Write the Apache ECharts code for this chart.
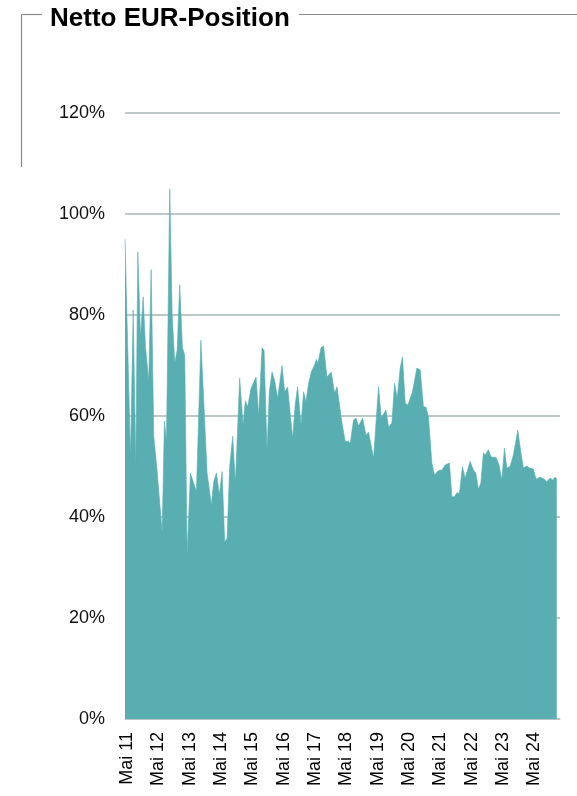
<!DOCTYPE html>
<html>
<head>
<meta charset="utf-8">
<script src="https://cdn.jsdelivr.net/npm/echarts@6/dist/echarts.min.js"></script>
<style>
html,body{margin:0;padding:0;background:#fff;}
#chart{width:577px;height:796px;}
</style>
</head>
<body>
<div id="chart"></div>
<script>
// Dates as decimal years, values in percent
const dates = [
2011.263,2011.439,2011.525,2011.608,2011.672,2011.758,2011.844,2011.917,2012.022,2012.099,
2012.182,2012.290,2012.450,2012.523,2012.587,2012.692,2012.769,2012.852,2012.928,2013.011,
2013.097,2013.171,2013.247,2013.352,2013.544,2013.687,2013.885,2014.022,2014.096,2014.182,
2014.278,2014.364,2014.447,2014.523,2014.606,2014.702,2014.788,2014.925,2015.034,2015.107,
2015.180,2015.289,2015.448,2015.531,2015.640,2015.703,2015.799,2015.872,2015.959,2016.042,
2016.137,2016.278,2016.360,2016.456,2016.616,2016.702,2016.775,2016.884,2016.967,2017.043,
2017.126,2017.212,2017.308,2017.372,2017.426,2017.522,2017.604,2017.713,2017.850,2017.955,
2018.032,2018.192,2018.297,2018.402,2018.456,2018.561,2018.638,2018.721,2018.849,2018.957,
2019.040,2019.200,2019.359,2019.445,2019.595,2019.678,2019.786,2019.869,2019.955,2020.051,
2020.124,2020.211,2020.297,2020.443,2020.584,2020.689,2020.794,2020.871,2020.954,2021.062,
2021.145,2021.273,2021.381,2021.487,2021.624,2021.700,2021.783,2021.860,2021.943,2022.038,
2022.124,2022.284,2022.389,2022.466,2022.549,2022.625,2022.708,2022.762,2022.868,2022.954,
2023.113,2023.209,2023.295,2023.378,2023.455,2023.560,2023.665,2023.806,2023.901,2023.984,
2024.093,2024.176,2024.303,2024.389,2024.517,2024.654,2024.731,2024.836,2024.922,2024.995,
2025.049
];
const values = [
95,52,81,50,92.5,75.6,83.6,73.7,67,89,
56,49,37,59,55,105,80,70.5,73,86,
73.5,72,32.5,48.7,45,75,48.7,42.4,47,48.7,
44.4,49,35,35.8,50,56,46.7,67.5,58.2,63,
61.8,65.5,67.7,60,73.5,73,53,64.8,68.7,67,
63.5,70,64.8,65.7,55.6,62.5,65.8,58.2,64.8,62.8,
66.5,68.7,70,71.2,70.5,73.5,73.9,67.7,68.7,64.5,
65.8,58.6,54.9,55,54.6,59.2,59.6,58,59.6,56.2,
56.8,51.7,65.8,59.6,61.2,57.8,58.6,66.5,63.5,69.5,
71.7,62.5,62.2,64.8,69.5,69.1,61.8,61.8,59.8,50.7,
48.3,49.2,49.3,50.3,50.7,44,44,44.8,44.7,50,
47.7,51,49.3,48.7,45.5,46.7,52.7,52.3,53.3,51.9,
51.8,50.3,47.3,53.6,49.7,50,52.3,57.2,52.9,49.7,
50.1,49.7,49.5,47.5,47.9,47.5,47,47.7,47.3,47.9,
47.5
];
const yTicks = [0,20,40,60,80,100,120];
const xLabelPrefix = 'Mai ';
const firstLabelYear = 11;
const title = 'Netto EUR-Position';

const may2011 = 2011 + 4/12;
const seriesData = dates.map((d,i)=>[d - may2011, values[i]]);

const chart = echarts.init(document.getElementById('chart'), null, {renderer:'canvas'});
const font = '"Liberation Sans", Arial, sans-serif';
chart.setOption({
  animation:false,
  grid:{left:125,right:17,top:113,bottom:77,containLabel:false},
  graphic:[
    {type:'line',shape:{x1:21.5,y1:14.5,x2:42,y2:14.5},style:{stroke:'#8a8a8a',lineWidth:1.2}},
    {type:'line',shape:{x1:21.5,y1:14.5,x2:21.5,y2:167},style:{stroke:'#8a8a8a',lineWidth:1.2}},
    {type:'line',shape:{x1:299,y1:14.5,x2:577,y2:14.5},style:{stroke:'#8a8a8a',lineWidth:1.2}},
    {type:'text',left:50,top:6,style:{text:title,font:'bold 26px '+font,fill:'#000'}}
  ],
  xAxis:{
    type:'value',
    min:-0.07, max:13.82, splitNumber:14,
    axisLine:{show:true,lineStyle:{color:'#b9c4c4',width:1}},
    axisTick:{show:false},
    splitLine:{show:false},
    axisLabel:{
      rotate:90, margin:13, fontSize:18, color:'#000', fontFamily:font,
      showMinLabel:false, showMaxLabel:false,
      formatter:function(v){
        const r = Math.round(v);
        if (Math.abs(v-r) > 1e-6 || r < 0) return '';
        return xLabelPrefix + (firstLabelYear + r);
      }
    }
  },
  yAxis:{
    type:'value', min:yTicks[0], max:yTicks[yTicks.length-1], interval:20,
    axisLine:{show:false}, axisTick:{show:false},
    splitLine:{show:true,lineStyle:{color:'#a8b4b4',width:1.6}},
    axisLabel:{margin:20,fontSize:18,color:'#111',fontFamily:font,formatter:'{value}%'}
  },
  series:[{
    type:'line',
    data:seriesData,
    showSymbol:false,
    lineStyle:{color:'#58aeb0',width:0.6},
    areaStyle:{color:'#58aeb0',opacity:1},
    z:3
  }]
});
</script>
</body>
</html>
